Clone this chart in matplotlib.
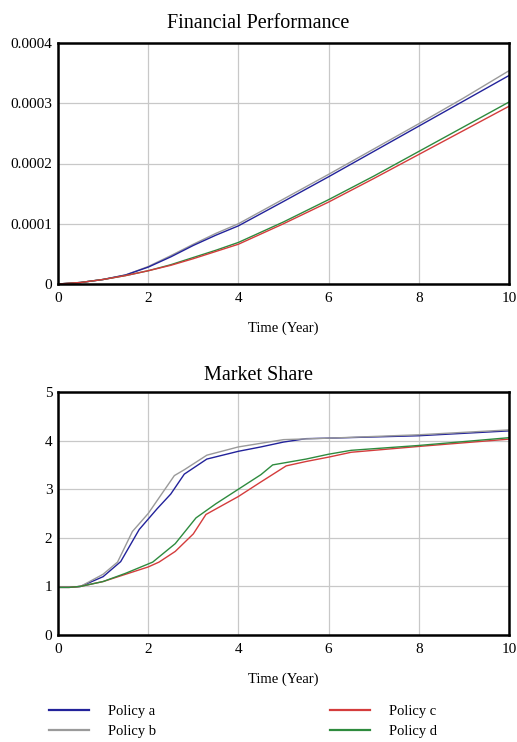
import matplotlib.pyplot as plt

plt.rcParams['font.family'] = ['Liberation Serif', 'DejaVu Serif']

# Financial Performance
fin_t = [0, 0.5, 1, 1.5, 2, 2.5, 3, 3.5, 4, 5, 6, 7, 8, 9, 10]
fin_a = [0, 0.0000025, 0.0000075, 0.000015, 0.000028, 0.000045, 0.000064, 0.000081, 0.0000965, 0.000137, 0.000178, 0.00022, 0.000262, 0.000304, 0.000346]
fin_b = [0, 0.0000025, 0.0000075, 0.000015, 0.000029, 0.000047, 0.000066, 0.000084, 0.0001, 0.000141, 0.000182, 0.000224, 0.000266, 0.000309, 0.000354]
fin_c = [0, 0.0000025, 0.0000075, 0.000014, 0.000022, 0.000031, 0.000042, 0.000054, 0.000066, 0.0001, 0.000136, 0.000175, 0.000215, 0.000255, 0.000295]
fin_d = [0, 0.0000025, 0.0000075, 0.000014, 0.000022, 0.000032, 0.000044, 0.000056, 0.000069, 0.000103, 0.00014, 0.000179, 0.00022, 0.000261, 0.000302]

# Market Share
ms_t_a = [0, 0.25, 0.5, 1.0, 1.39, 1.8, 2.2, 2.5, 2.8, 3.3, 4, 4.5, 5, 5.5, 6, 8, 10]
ms_a = [0.98, 0.98, 1.0, 1.2, 1.51, 2.17, 2.6, 2.9, 3.31, 3.62, 3.78, 3.87, 3.97, 4.04, 4.05, 4.1, 4.2]
ms_t_b = [0, 0.25, 0.5, 1.0, 1.32, 1.65, 2.0, 2.58, 2.8, 3.3, 4, 5, 6, 8, 10]
ms_b = [0.98, 0.98, 1.0, 1.25, 1.5, 2.13, 2.5, 3.28, 3.4, 3.7, 3.87, 4.02, 4.05, 4.12, 4.22]
ms_t_c = [0, 0.25, 0.5, 1.0, 1.5, 2.0, 2.24, 2.6, 3.0, 3.28, 4, 4.5, 5.06, 5.5, 6, 6.5, 8, 10]
ms_c = [0.98, 0.98, 1.0, 1.1, 1.25, 1.4, 1.5, 1.72, 2.08, 2.48, 2.85, 3.15, 3.48, 3.57, 3.66, 3.76, 3.88, 4.03]
ms_t_d = [0, 0.25, 0.5, 1.0, 1.5, 2.1, 2.6, 3.06, 3.5, 4, 4.5, 4.76, 5.5, 6, 6.5, 8, 10]
ms_d = [0.98, 0.98, 1.0, 1.1, 1.27, 1.5, 1.88, 2.41, 2.7, 3.0, 3.3, 3.5, 3.62, 3.72, 3.8, 3.9, 4.06]

labels = ['Policy a', 'Policy b', 'Policy c', 'Policy d']
colors = ['#22229a', '#9a9a9a', '#d43c3c', '#2e8b3e']

W, H = 517, 742
fig = plt.figure(figsize=(W / 100, H / 100), dpi=100)
ax1 = fig.add_axes([58 / W, (H - 284) / H, 451 / W, 241 / H])
ax2 = fig.add_axes([58 / W, (H - 635) / H, 451 / W, 243 / H])


def style(ax, title, pad):
    ax.set_xlim(0, 10)
    ax.set_xticks([0, 2, 4, 6, 8, 10])
    ax.grid(True, color='#c8c8c8', linewidth=0.9)
    ax.tick_params(length=0, labelsize=11)
    ax.tick_params(axis='x', pad=6)
    ax.tick_params(axis='y', pad=4)
    for s in ax.spines.values():
        s.set_linewidth(1.8)
        s.set_color('black')
    # title is centred on the whole figure, not on the axes
    ax.set_title(title, fontsize=14.5, pad=pad, x=(258.5 - 58) / 451)
    ax.set_xlabel('Time (Year)', fontsize=10.5, labelpad=12)


ax1.plot(fin_t, fin_b, color=colors[1], lw=1)
ax1.plot(fin_t, fin_a, color=colors[0], lw=1)
ax1.plot(fin_t, fin_d, color=colors[3], lw=1)
ax1.plot(fin_t, fin_c, color=colors[2], lw=1)
ax1.set_ylim(0, 0.0004)
ax1.set_yticks([0, 0.0001, 0.0002, 0.0003, 0.0004])
ax1.set_yticklabels(['0', '0.0001', '0.0002', '0.0003', '0.0004'])
style(ax1, 'Financial Performance', 11)

la, = ax2.plot(ms_t_a, ms_a, color=colors[0], lw=1)
lb, = ax2.plot(ms_t_b, ms_b, color=colors[1], lw=1)
lc, = ax2.plot(ms_t_c, ms_c, color=colors[2], lw=1)
ld, = ax2.plot(ms_t_d, ms_d, color=colors[3], lw=1)
ax2.set_ylim(0, 5)
ax2.set_yticks([0, 1, 2, 3, 4, 5])
style(ax2, 'Market Share', 9)

handles = [la, lb, lc, ld]
leg = fig.legend(handles, labels, ncol=2, loc='upper left',
                 bbox_to_anchor=(36 / W, (H - 692) / H), frameon=False,
                 fontsize=10.5, handlelength=2.75, handletextpad=1.3,
                 columnspacing=11.9, labelspacing=0.45)
for line in leg.get_lines():
    line.set_linewidth(1.6)

fig.savefig('out.png', dpi=100)
